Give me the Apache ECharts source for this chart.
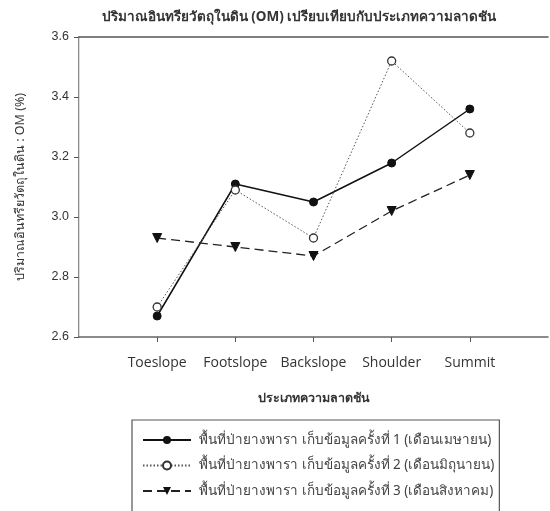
<!DOCTYPE html>
<html>
<head>
<meta charset="utf-8">
<script src="https://cdn.jsdelivr.net/npm/echarts@6/dist/echarts.min.js"></script>
<style>html,body{margin:0;padding:0;background:#fff}#c{width:550px;height:511px}</style>
</head>
<body>
<div id="c"></div>
<script>
const categories = ['Toeslope', 'Footslope', 'Backslope', 'Shoulder', 'Summit'];
const seriesNames = [
  'พื้นที่ป่ายางพารา เก็บข้อมูลครั้งที่ 1 (เดือนเมษายน)',
  'พื้นที่ป่ายางพารา เก็บข้อมูลครั้งที่ 2 (เดือนมิถุนายน)',
  'พื้นที่ป่ายางพารา เก็บข้อมูลครั้งที่ 3 (เดือนสิงหาคม)'
];
const april = [2.67, 3.11, 3.05, 3.18, 3.36];
const june = [2.70, 3.09, 2.93, 3.52, 3.28];
const august = [2.93, 2.90, 2.87, 3.02, 3.14];
const yTicks = [2.6, 2.8, 3.0, 3.2, 3.4, 3.6];

const pos = categories.map((c, i) => i + 1);
const pts = arr => arr.map((v, i) => [pos[i], v]);
const thai = '"Noto Sans", "DejaVu Sans", sans-serif';

const chart = echarts.init(document.getElementById('c'), null, {renderer: 'canvas'});
chart.setOption({
  animation: false,
  backgroundColor: '#fff',
  title: {
    text: 'ปริมาณอินทรียวัตถุในดิน (OM) เปรียบเทียบกับประเภทความลาดชัน',
    left: 294, top: 5, textAlign: 'center',
    textStyle: {fontSize: 13.5, fontWeight: 'bold', color: '#333', fontFamily: thai}
  },
  grid: {left: 79, right: 2, top: 37, bottom: 174, containLabel: false},
  xAxis: [{
    type: 'value', min: 0, max: 6, interval: 1,
    name: 'ประเภทความลาดชัน', nameLocation: 'middle', nameGap: 55,
    nameTextStyle: {fontSize: 12.5, fontWeight: 'bold', color: '#333', fontFamily: thai},
    axisLine: {show: true, lineStyle: {color: '#666', width: 1.5}},
    axisTick: {show: true, customValues: pos, length: 5, lineStyle: {color: '#555'}},
    axisLabel: {customValues: pos, margin: 19, fontSize: 14, color: '#333', fontFamily: '"Open Sans", sans-serif',
      formatter: v => categories[Math.round(v) - 1] || ''},
    splitLine: {show: false}
  }, {
    type: 'value', min: 0, max: 6, position: 'top',
    axisLine: {show: true, lineStyle: {color: '#555', width: 1.5}},
    axisTick: {show: false}, axisLabel: {show: false}, splitLine: {show: false}
  }],
  yAxis: [{
    type: 'value', min: yTicks[0], max: yTicks[yTicks.length - 1], interval: 0.2,
    name: 'ปริมาณอินทรียวัตถุในดิน : OM (%)', nameLocation: 'middle', nameGap: 52, nameRotate: 90,
    nameTextStyle: {fontSize: 12.5, color: '#333', fontFamily: thai},
    axisLine: {show: true, lineStyle: {color: '#666', width: 1.5}},
    axisTick: {show: true, length: 5, lineStyle: {color: '#555'}},
    axisLabel: {margin: 10, fontSize: 12.5, color: '#333', fontFamily: '"Liberation Sans", Arial, sans-serif',
      formatter: v => v.toFixed(1)},
    splitLine: {show: false}
  }, {
    type: 'value', min: yTicks[0], max: yTicks[yTicks.length - 1], position: 'right',
    axisLine: {show: true, lineStyle: {color: '#ddd', width: 1}},
    axisTick: {show: false}, axisLabel: {show: false}, splitLine: {show: false}
  }],
  legend: {
    orient: 'vertical', left: 132, top: 420, height: 130,
    padding: [12, 5, 40, 10], itemGap: 9.5,
    itemWidth: 48, itemHeight: 10,
    borderColor: '#555', borderWidth: 1.2,
    textStyle: {fontSize: 13.5, lineHeight: 16, color: '#444', fontFamily: thai, padding: [0, 0, 0, 3]},
    data: seriesNames
  },
  series: [{
    name: seriesNames[0], type: 'line', data: pts(april),
    symbol: 'circle', symbolSize: 8,
    lineStyle: {color: '#111', width: 1.5, type: 'solid'},
    itemStyle: {color: '#111', borderColor: '#111'}
  }, {
    name: seriesNames[1], type: 'line', data: pts(june),
    symbol: 'circle', symbolSize: 8,
    lineStyle: {color: '#555', width: 1, type: [1.5, 2]},
    itemStyle: {color: '#fff', borderColor: '#333', borderWidth: 1.3}
  }, {
    name: seriesNames[2], type: 'line', data: pts(august),
    symbol: 'triangle', symbolRotate: 180, symbolSize: 9,
    lineStyle: {color: '#222', width: 1.3, type: [9, 5]},
    itemStyle: {color: '#111', borderColor: '#111'}
  }]
});
</script>
</body>
</html>
